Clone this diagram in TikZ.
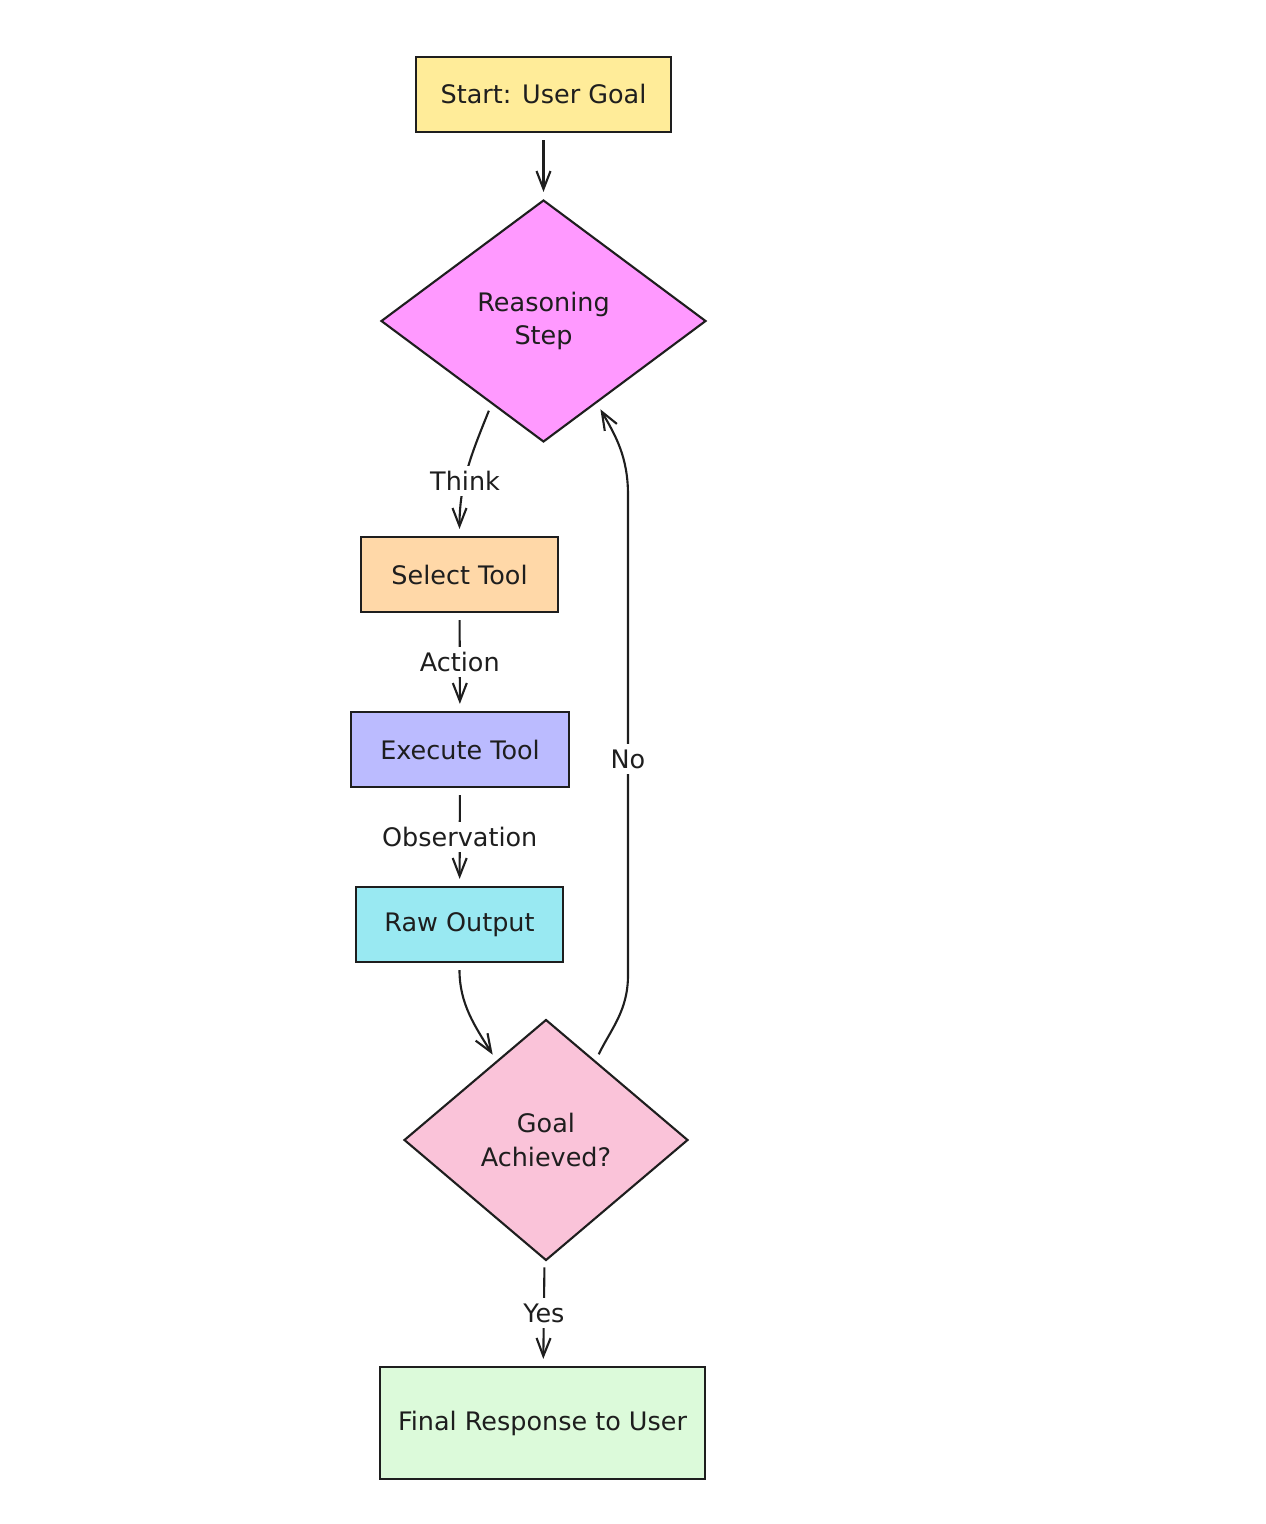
\documentclass[tikz,border=0pt]{standalone}
\usepackage{fontspec}
\setmainfont{DejaVu Sans}
\usetikzlibrary{shapes.geometric,arrows.meta}
\definecolor{ink}{HTML}{1E1E1E}
\definecolor{startcol}{HTML}{FFEC99}
\definecolor{reasoncol}{HTML}{FF99FF}
\definecolor{selectcol}{HTML}{FFD8A8}
\definecolor{execcol}{HTML}{BBBBFF}
\definecolor{rawcol}{HTML}{99E9F2}
\definecolor{goalcol}{HTML}{FAC3D9}
\definecolor{finalcol}{HTML}{DCFADA}
\begin{document}
\begin{tikzpicture}[x=0.02cm, y=-0.02cm, >={Straight Barb[length=3.6mm,width=2.8mm]},
    every node/.style={font=\fontsize{14.5}{19}\selectfont, text=ink},
    box/.style={draw=ink, line width=1.2pt, rectangle, minimum height=1.5cm},
    choice/.style={draw=ink, line width=1.2pt, diamond, align=center, inner sep=0pt},
    lbl/.style={fill=white, inner sep=3pt},
    flow/.style={->, draw=ink, line width=1.2pt, shorten <=4pt, shorten >=4pt}]
\useasboundingbox (0,0) rectangle (1266,1524);
% nodes
\node[box, fill=startcol, minimum width=5.1cm] (start) at (543.5,94.5) {Start: User Goal};
\node[choice, fill=reasoncol, minimum width=6.5cm, minimum height=4.84cm] (reason) at (543.5,321) {Reasoning\\Step};
\node[box, fill=selectcol, minimum width=3.94cm] (select) at (459.5,574.5) {Select Tool};
\node[box, fill=execcol, minimum width=4.36cm] (exec) at (460,749.5) {Execute Tool};
\node[box, fill=rawcol, minimum width=4.14cm] (raw) at (459.5,924.5) {Raw Output};
\node[choice, fill=goalcol, minimum width=5.68cm, minimum height=4.82cm] (goal) at (546,1140) {Goal\\Achieved?};
\node[box, fill=finalcol, minimum width=6.5cm, minimum height=2.24cm] (final) at (542.5,1423) {Final Response to User};
\coordinate (noLow) at (628,975);
\coordinate (noHigh) at (628,495);
% connectors
\draw[flow] (start) -- (reason);
\draw[flow] (reason.238) to[out=-112, in=90] node[lbl, pos=0.6]{Think} (select.north);
\draw[flow] (select) -- node[lbl]{Action} (exec);
\draw[flow] (exec) -- node[lbl]{Observation} (raw);
\draw[flow] (raw.south) to[out=-90, in=122] (goal.122);
\draw[flow] (goal.58) to[out=64, in=-90] (noLow) -- node[lbl, pos=0.45]{No} (noHigh) to[out=90, in=-60] (reason.303);
\draw[flow] (goal) -- node[lbl]{Yes} (final);
\end{tikzpicture}
\end{document}
